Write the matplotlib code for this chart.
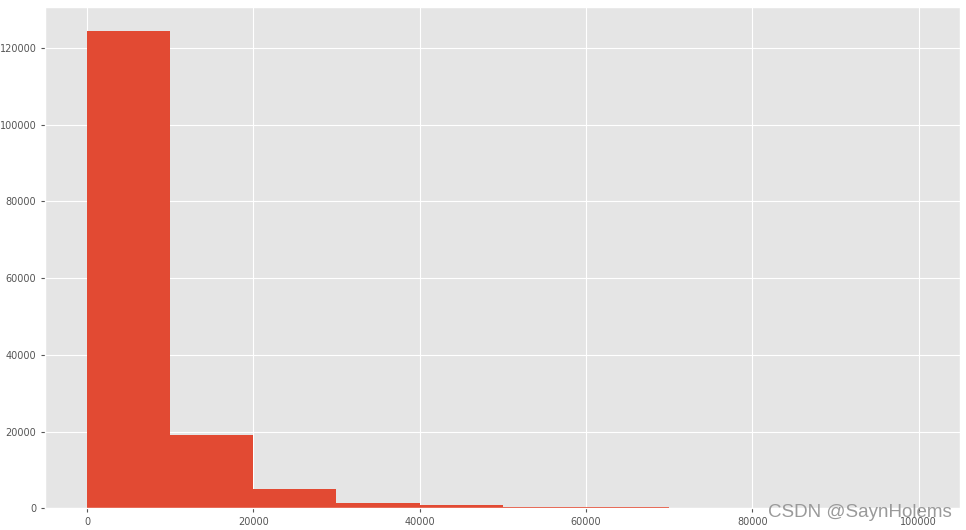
import matplotlib
matplotlib.use("Agg")
import matplotlib.pyplot as plt
import numpy as np

plt.style.use("ggplot")

bin_edges = [0, 10000, 20000, 30000, 40000, 50000, 60000, 70000, 80000, 90000, 100000]
counts = [124500, 19000, 5100, 1450, 800, 400, 300, 60, 30, 15]

fig = plt.figure(figsize=(9.66, 5.30), dpi=100)
ax = fig.add_axes([0.047, 0.041, 0.947, 0.946])

ax.hist(bin_edges[:-1], bins=bin_edges, weights=counts, color="#E24A33")

ax.tick_params(axis="both", labelsize=7, colors="#555555", length=3)
ax.set_xticks([0, 20000, 40000, 60000, 80000, 100000])
ax.set_yticks([0, 20000, 40000, 60000, 80000, 100000, 120000])

fig.text(0.985, 0.017, "CSDN @SaynHolems", ha="right", va="bottom",
         fontsize=13.5, color="#9a9a9a", family="Liberation Sans")

fig.savefig("out.png", dpi=100)
